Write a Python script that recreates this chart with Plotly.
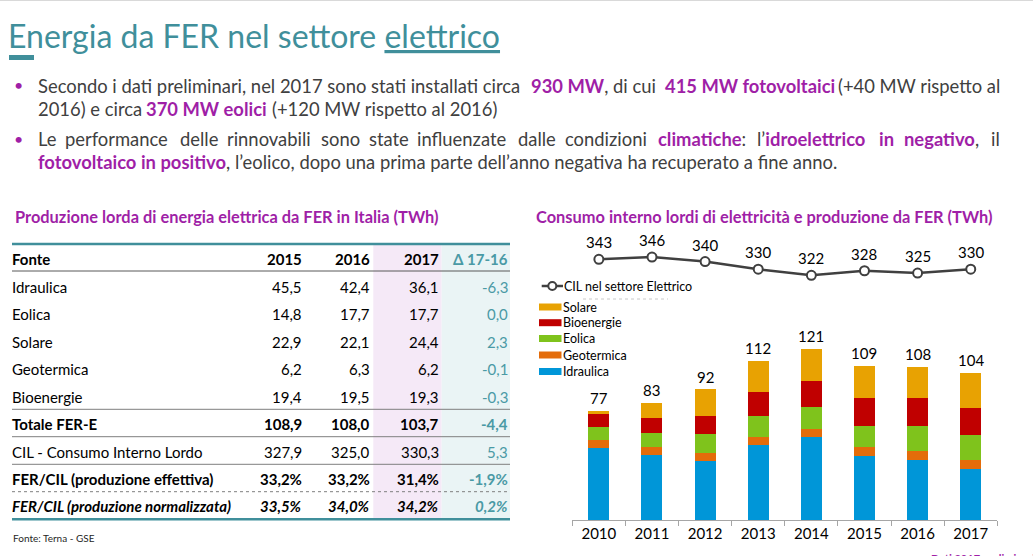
import plotly.graph_objects as go

W, H = 1033, 556

# --- chart data (TWh) ---
anni = ["2010", "2011", "2012", "2013", "2014", "2015", "2016", "2017"]
idraulica = [51.1, 45.8, 41.9, 52.8, 58.5, 45.5, 42.4, 36.1]
geotermica = [5.4, 5.7, 5.6, 5.7, 5.9, 6.2, 6.3, 6.2]
eolica = [9.1, 9.9, 13.4, 14.9, 15.2, 14.8, 17.7, 17.7]
bioenergie = [9.4, 10.8, 12.5, 17.1, 18.7, 19.4, 19.5, 19.3]
solare = [1.9, 10.8, 18.9, 21.6, 22.3, 22.9, 22.1, 24.4]
totali = [77, 83, 92, 112, 121, 109, 108, 104]
cil = [343, 346, 340, 330, 322, 328, 325, 330]

# --- table data ---
tab_anni = ["2015", "2016", "2017"]
fonti = ["Idraulica", "Eolica", "Solare", "Geotermica", "Bioenergie", "Totale FER-E",
         "CIL - Consumo Interno Lordo", "FER/CIL (produzione effettiva)",
         "FER/CIL (produzione normalizzata)"]
v2015 = ["45,5", "14,8", "22,9", "6,2", "19,4", "108,9", "327,9", "33,2%", "33,5%"]
v2016 = ["42,4", "17,7", "22,1", "6,3", "19,5", "108,0", "325,0", "33,2%", "34,0%"]
v2017 = ["36,1", "17,7", "24,4", "6,2", "19,3", "103,7", "330,3", "31,4%", "34,2%"]
delta = ["-6,3", "0,0", "2,3", "-0,1", "-0,3", "-4,4", "5,3", "-1,9%", "0,2%"]

colori = {"Idraulica": "#0096D8", "Geotermica": "#E46C0A", "Eolica": "#7FC31C",
          "Bioenergie": "#C00000", "Solare": "#E8A202"}

TEAL = "#408F9B"
PURPLE = "#9F1FA7"
GREY = "#404040"
FONT = "Lato"


def px(x):
    return x / W


def py(y):
    return 1 - y / H


ann = []
shapes = []


def note(x, y, text, font, xanchor="left"):
    # text placed in slide pixels (from top-left)
    ann.append(dict(x=px(x), y=py(y), xref="paper", yref="paper", text=text,
                    xanchor=xanchor, yanchor="middle", showarrow=False, font=font))


def hline(y, x0, x1, color, width=1, dash="solid"):
    shapes.append(dict(type="line", xref="paper", yref="paper", x0=px(x0), x1=px(x1),
                       y0=py(y), y1=py(y), line=dict(color=color, width=width, dash=dash)))


def box(x0, x1, y0, y1, color, layer="above"):
    shapes.append(dict(type="rect", xref="paper", yref="paper", x0=px(x0), x1=px(x1),
                       y0=py(y1), y1=py(y0), fillcolor=color, line_width=0, layer=layer))


fig = go.Figure()

serie = [("Idraulica", idraulica), ("Geotermica", geotermica), ("Eolica", eolica),
         ("Bioenergie", bioenergie), ("Solare", solare)]
for nome, vals in serie:
    fig.add_trace(go.Bar(x=anni, y=vals, name=nome, marker_color=colori[nome],
                         marker_line_width=0, showlegend=False))

fig.add_trace(go.Scatter(x=anni, y=cil, yaxis="y2", mode="lines+markers",
                         line=dict(color=GREY, width=2.5),
                         marker=dict(symbol="circle", size=9, color="white",
                                     line=dict(color=GREY, width=2)),
                         showlegend=False))

# labels above bars and on the line (x = category index)
for i, t in enumerate(totali):
    ann.append(dict(x=i, y=t, xref="x", yref="y", text=str(t), showarrow=False,
                    yshift=13, font=dict(size=15, color="black", family=FONT)))
for i, c in enumerate(cil):
    ann.append(dict(x=i, y=c, xref="x", yref="y2", text=str(c), showarrow=False,
                    yshift=17, font=dict(size=15, color="black", family=FONT)))

# title
note(6, 35, "Energia da FER nel settore <u>elettrico</u>",
     dict(size=32, color=TEAL, family=FONT))
box(9, 34, 55, 60, TEAL)
hline(0.5, 0, W, "#D9D9D9")

# bullets
B = lambda s: "<b><span style='color:%s'>%s</span></b>" % (PURPLE, s)
body = dict(size=18.4, color=GREY, family=FONT)
for yb in (86, 139):
    note(18, yb - 1, "•", dict(size=16, color=PURPLE, family=FONT), "center")

righe = [
    (86, [(36, "Secondo i dati preliminari, nel 2017 sono stati installati circa"),
          (529, B("930 MW") + ", di cui"), (663, B("415 MW fotovoltaici"))]),
    (109, [(36, "2016) e circa"), (144, B("370 MW eolici")),
           (270, "(+120 MW rispetto al 2016)")]),
    (139, [(36, "Le"), (63, "performance"), (178, "delle"), (225, "rinnovabili"),
           (319, "sono"), (367, "state"), (415, "influenzate"), (516, "dalle"),
           (563, "condizioni"), (656, B("climatiche") + ":"),
           (755, "l’" + B("idroelettrico")), (877, B("in")),
           (902, B("negativo") + ",")]),
    (162, [(36, B("fotovoltaico in positivo") +
            ", l’eolico, dopo una prima parte dell’anno negativa ha recuperato a fine anno.")]),
]
for yb, pezzi in righe:
    for xb, t in pezzi:
        note(xb, yb, t, body)
note(1002, 86, "(+40 MW rispetto al", body, "right")
note(1002, 139, "il", body, "right")

# section titles
note(13, 216, "<b>Produzione lorda di energia elettrica da FER in Italia (TWh)</b>",
     dict(size=16.4, color=PURPLE, family=FONT))
note(534, 216, "<b>Consumo interno lordi di elettricità e produzione da FER (TWh)</b>",
     dict(size=16.4, color=PURPLE, family=FONT))

# table
box(373.3, 441.7, 244, 519, "#F5E9F7", "below")
box(441.7, 510, 244, 519, "#EAF4F5", "below")
for yl, col, w, dash in [(244, TEAL, 2.5, "solid"), (271, "#595959", 1, "solid"),
                         (409.3, "#7F7F7F", 1, "solid"), (436.7, "#7F7F7F", 1, "solid"),
                         (464.3, "#7F7F7F", 1, "solid"), (491.7, "#7F7F7F", 1, "dot"),
                         (519.3, TEAL, 2.5, "solid")]:
    hline(yl, 12, 510, col, w, dash)

tf = dict(size=15, color="black", family=FONT)
tft = dict(size=15, color="#4A9AA5", family=FONT)
col_x = [304, 372.3, 441]
note(10, 259, "<b>Fonte</b>", tf)
for xc, a in zip(col_x, tab_anni):
    note(xc, 259, "<b>%s</b>" % a, tf, "right")
note(510, 259, "<b>Δ 17-16</b>", tft, "right")

riga_y = [286.7, 314, 341.7, 369, 396.7, 424.3, 451.7, 479.3, 506]
for i, yr in enumerate(riga_y):
    if i in (5, 7):
        fmt = "<b>%s</b>"
    elif i == 8:
        fmt = "<b><i>%s</i></b>"
    else:
        fmt = "%s"
    note(10, yr, fmt % fonti[i], tf)
    for xc, vals in zip(col_x, (v2015, v2016, v2017)):
        note(xc, yr, fmt % vals[i], tf, "right")
    note(510, yr, fmt % delta[i], tft, "right")

note(11, 538, "Fonte: Terna - GSE", dict(size=10, color="#262626", family=FONT))
note(929, 558, "<b>Dati 2017 preliminari</b>", dict(size=11, color=PURPLE, family=FONT))

# legend (drawn by hand)
leg = dict(size=12.5, color="black", family=FONT)
hline(286, 541.7, 563, GREY, 2.5)
shapes.append(dict(type="circle", xref="paper", yref="paper", x0=px(548.3), x1=px(556.3),
                   y0=py(290), y1=py(282), fillcolor="white", line=dict(color=GREY, width=2)))
note(562, 286, "CIL nel settore Elettrico", leg)
hline(299, 583, 668, "#C8C8C8", 1, "dot")
for yl, nome in zip([307, 322.7, 338.5, 355, 371.5],
                    ["Solare", "Bioenergie", "Eolica", "Geotermica", "Idraulica"]):
    box(539, 561.5, yl - 3.5, yl + 3.5, colori[nome])
    note(561, yl, nome, leg)

fig.update_layout(
    width=W, height=H, margin=dict(l=0, r=0, t=0, b=0),
    paper_bgcolor="white", plot_bgcolor="white",
    barmode="stack", bargap=0.605,
    font=dict(family=FONT),
    xaxis=dict(domain=[px(572.3), px(997.3)], type="category", range=[-0.5, 7.5],
               showline=True, linecolor="#A6A6A6", linewidth=1,
               ticks="outside", tickson="boundaries", ticklen=5, tickcolor="#A6A6A6",
               tickfont=dict(size=15, color="black", family=FONT), showgrid=False),
    yaxis=dict(domain=[py(520), py(336)], range=[0, 130], visible=False),
    yaxis2=dict(domain=[py(290), py(230)], range=[302.7, 381.5], visible=False,
                anchor="x"),
    annotations=ann, shapes=shapes,
)

fig.write_html("out.html", config={"displayModeBar": False},
               post_script="document.body.style.margin='0';")
